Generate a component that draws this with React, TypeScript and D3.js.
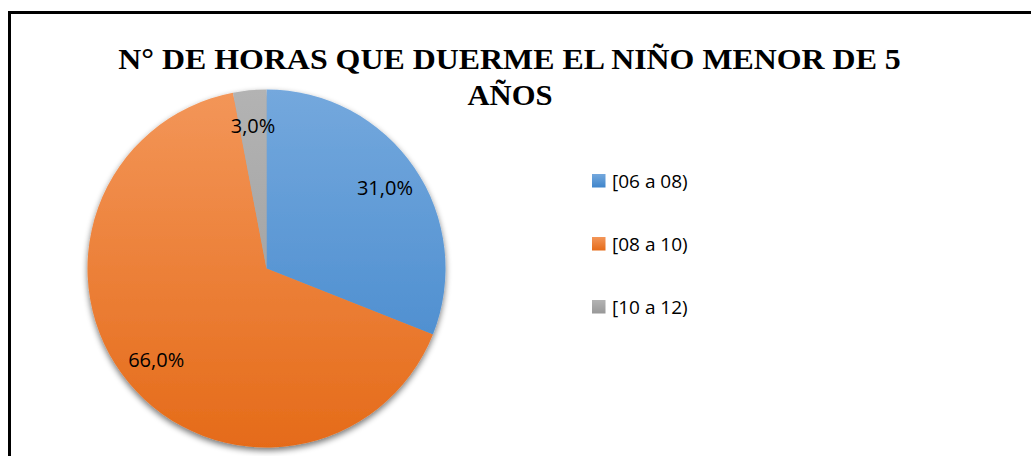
import React, { useLayoutEffect, useRef, useState } from 'react';
import * as d3 from 'd3';

const categories = ['[06 a 08)', '[08 a 10)', '[10 a 12)'];
const values = [31.0, 66.0, 3.0];
const title = ['N° DE HORAS QUE DUERME EL NIÑO MENOR DE 5', 'AÑOS'];

const W = 1031, H = 456;
const cx = 266.5, cy = 268.5, r = 179;

const gradStops = [
  ['#74a8dd', '#3f85cb'],
  ['#f39659', '#e56b19'],
  ['#b3b3b3', '#989898'],
];

const fmt = (v: number) => v.toFixed(1).replace('.', ',') + '%';

// fits a title line to the measured width of the original
function FitText({ x, y, width, size, children }: { x: number; y: number; width: number; size: number; children: string }) {
  const ref = useRef<SVGTextElement>(null);
  const [k, setK] = useState(1);
  useLayoutEffect(() => {
    if (ref.current) setK(width / ref.current.getComputedTextLength());
  }, [width, children]);
  return (
    <text ref={ref} transform={`translate(${x},${y}) scale(${k},1)`} textAnchor="middle"
      fontFamily="'Liberation Serif', 'Times New Roman', serif" fontWeight="bold" fontSize={size} fill="#000">
      {children}
    </text>
  );
}

export default function App() {
  const pie = d3.pie<number>().sort(null).value(d => d);
  const arcs = pie(values);
  const arc = d3.arc<d3.PieArcDatum<number>>().innerRadius(0).outerRadius(r);
  const labelArc = d3.arc<d3.PieArcDatum<number>>().innerRadius(r * 0.8).outerRadius(r * 0.8);

  const legendY = d3.scalePoint<string>().domain(categories).range([181, 307]);
  const font = "'Open Sans', 'Noto Sans', sans-serif";

  return (
    <svg width={W} height={H} style={{ position: 'absolute', left: 0, top: 0, background: '#fff' }}>
      <defs>
        {gradStops.map((g, i) => (
          <linearGradient key={i} id={`g${i}`} gradientUnits="userSpaceOnUse" x1={0} y1={-r} x2={0} y2={r}>
            <stop offset="0" stopColor={g[0]} />
            <stop offset="1" stopColor={g[1]} />
          </linearGradient>
        ))}
        {gradStops.map((g, i) => (
          <linearGradient key={'l' + i} id={`lg${i}`} x1={0} y1={0} x2={0} y2={1}>
            <stop offset="0" stopColor={g[0]} />
            <stop offset="1" stopColor={g[1]} />
          </linearGradient>
        ))}
        <filter id="shadow" x="-20%" y="-20%" width="140%" height="140%">
          <feGaussianBlur in="SourceAlpha" stdDeviation="3" />
          <feOffset dx="0" dy="3" result="b" />
          <feComponentTransfer>
            <feFuncA type="linear" slope="0.55" />
          </feComponentTransfer>
          <feMerge>
            <feMergeNode />
            <feMergeNode in="SourceGraphic" />
          </feMerge>
        </filter>
      </defs>

      {/* frame */}
      <path d={`M9.5,${H + 5} V12.5 H${W + 5}`} fill="none" stroke="#000" strokeWidth={3} />

      {/* title */}
      <FitText x={509.5} y={69} width={783} size={30}>{title[0]}</FitText>
      <FitText x={510} y={105} width={85} size={30}>{title[1]}</FitText>

      {/* pie */}
      <g transform={`translate(${cx},${cy})`}>
        <g filter="url(#shadow)">
          {arcs.map((a, i) => (
            <path key={i} d={arc(a) || ''} fill={`url(#g${i})`} />
          ))}
        </g>
        {arcs.map((a, i) => {
          const [x, y] = labelArc.centroid(a);
          return (
            <text key={i} x={x} y={y} dy="0.35em" textAnchor="middle" fontFamily={font} fontSize={20} fill="#000">
              {fmt(values[i])}
            </text>
          );
        })}
      </g>

      {/* legend */}
      {categories.map((c, i) => (
        <g key={c} transform={`translate(592,${legendY(c)})`}>
          <rect x={0} y={-7} width={13.5} height={13.5} fill={`url(#lg${i})`} />
          <text x={20} y={0} dy="0.35em" fontFamily={font} fontSize={19} fill="#000">{c}</text>
        </g>
      ))}
    </svg>
  );
}
